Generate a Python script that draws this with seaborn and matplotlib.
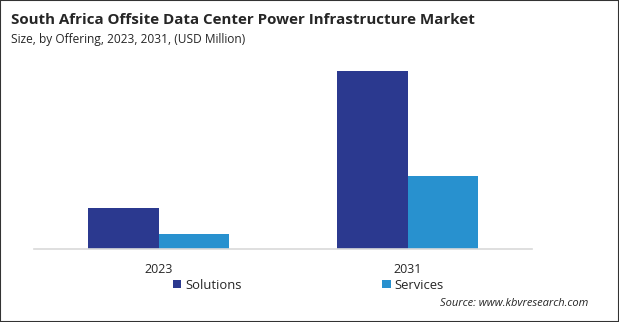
import matplotlib
matplotlib.use("Agg")
import matplotlib.pyplot as plt
import seaborn as sns
import pandas as pd
from matplotlib.patches import Rectangle

years = ["2023", "2031"]
offerings = ["Solutions", "Services"]
solutions = [41.0, 178.0]
services = [15.0, 73.0]
colors = ["#2b398f", "#2891cf"]

df = pd.DataFrame({
    "Year": years * 2,
    "Offering": [offerings[0]] * 2 + [offerings[1]] * 2,
    "Value": solutions + services,
})

sns.set_theme(style="white")
plt.rcParams["font.family"] = ["Open Sans", "DejaVu Sans"]

fig = plt.figure(figsize=(6.19, 3.22), dpi=100)
ax = fig.add_axes([34 / 619, 1 - 249 / 322, 498 / 619, 189 / 322])

sns.barplot(data=df, x="Year", y="Value", hue="Offering", order=years,
            hue_order=offerings, palette=colors, width=0.566, saturation=1,
            linewidth=0, edgecolor="none", ax=ax, legend=True)

ax.set_xlim(-0.5, 1.5)
ax.set_ylim(0, 189)
ax.set_xlabel("")
ax.set_ylabel("")
ax.set_yticks([])
for s in ["top", "right", "left"]:
    ax.spines[s].set_visible(False)
ax.spines["bottom"].set_color("#d9d9d9")
ax.spines["bottom"].set_linewidth(1.2)
ax.tick_params(axis="x", length=0, pad=10, labelsize=9, labelcolor="#262626")

leg = ax.legend(loc="upper left", bbox_to_anchor=(166 / 619, 1 - 272 / 322),
                bbox_transform=fig.transFigure, ncol=2, frameon=False,
                fontsize=9.4, handlelength=0.65, handleheight=0.65,
                handletextpad=0.3, columnspacing=10.8, borderpad=0)
for t in leg.get_texts():
    t.set_color("#262626")

fig.text(11 / 619, 1 - 20 / 322, "South Africa Offsite Data Center Power Infrastructure Market",
         fontsize=10.9, fontweight="bold", color="#262626", va="center", ha="left")
fig.text(11 / 619, 1 - 40 / 322, "Size, by Offering, 2023, 2031, (USD Million)",
         fontsize=8.6, color="#262626", va="center", ha="left")
fig.text(588 / 619, 1 - 303 / 322, "Source: www.kbvresearch.com",
         fontsize=8, style="italic", color="#262626", va="center", ha="right")

fig.patches.append(Rectangle((0, 0), 1, 1, transform=fig.transFigure, fill=False,
                             edgecolor="#333333", linewidth=1.5, zorder=10))

fig.savefig("out.png", dpi=100, facecolor="white")
